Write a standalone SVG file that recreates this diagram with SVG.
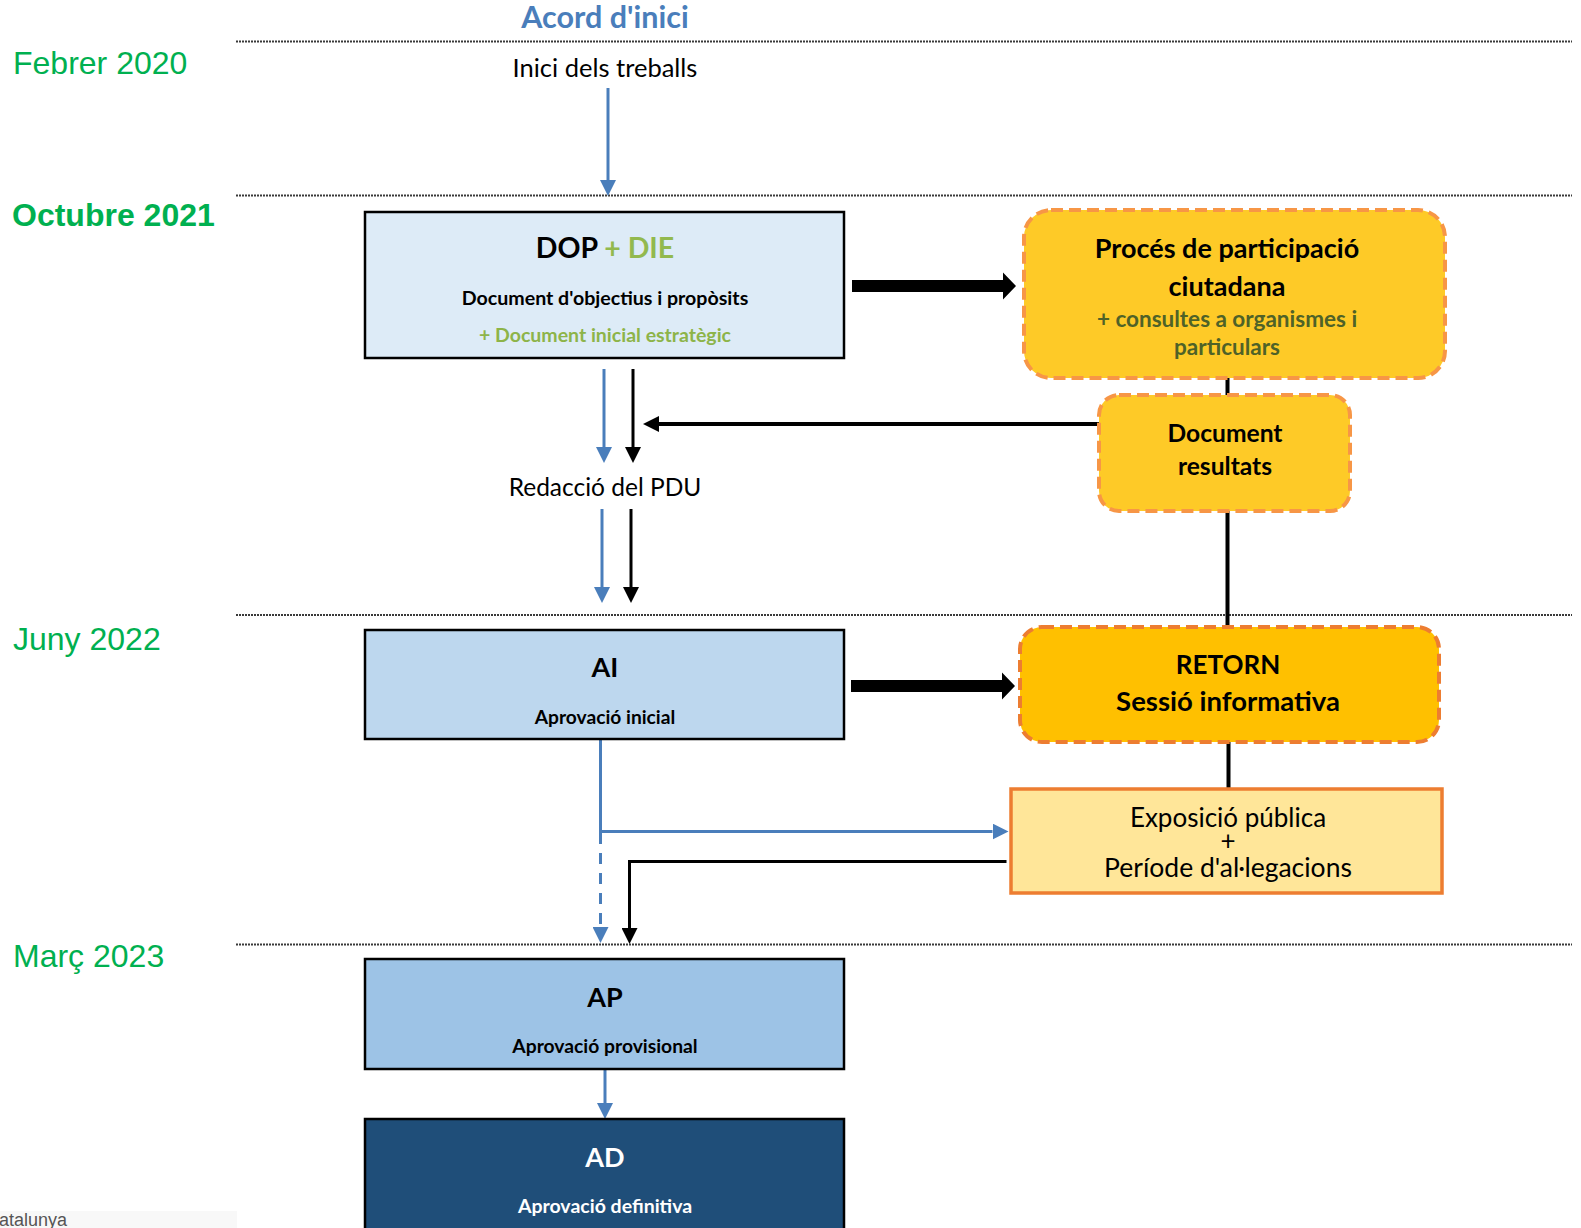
<svg xmlns="http://www.w3.org/2000/svg" width="1581" height="1228" viewBox="0 0 1581 1228">
<style>
.date{font-family:"Liberation Sans",Arial,sans-serif;font-size:32px;fill:#00B050}
.c{font-family:Lato,"Open Sans",sans-serif;text-anchor:middle}
.b{font-weight:bold}
.sep{stroke:#3a3a3a;stroke-width:2;stroke-dasharray:2 1;fill:none}
.bl{stroke:#4A7EBB;stroke-width:3;fill:none}
.bk{stroke:#000;stroke-width:3;fill:none}
.bk4{stroke:#000;stroke-width:4;fill:none}
.box{stroke:#000;stroke-width:2.5}
.yel{fill:#FECA27;stroke:#F79646;stroke-width:4;stroke-dasharray:12 6}
</style>
<defs>
<marker id="ab" markerUnits="userSpaceOnUse" markerWidth="16" markerHeight="16" viewBox="0 0 16 16" refX="0" refY="8" orient="auto"><path d="M0,0 L16,8 L0,16 Z" fill="#4A7EBB"/></marker>
<marker id="ak" markerUnits="userSpaceOnUse" markerWidth="16" markerHeight="16" viewBox="0 0 16 16" refX="0" refY="8" orient="auto"><path d="M0,0 L16,8 L0,16 Z" fill="#000"/></marker>
<path id="thick" d="M0,-6 H151 V-13.5 L164,0 L151,13.5 V6 H0 Z" fill="#000"/>
</defs>
<rect width="1581" height="1228" fill="#fff"/>
<rect x="0" y="1211" width="237" height="17" fill="#f8f8f8"/>
<text x="-1" y="1226" font-family="Liberation Sans,Arial,sans-serif" font-size="18" fill="#555">atalunya</text>

<g id="timeline">
<line class="sep" x1="236" y1="41.5" x2="1572" y2="41.5"/>
<line class="sep" x1="236" y1="195.5" x2="1572" y2="195.5"/>
<line class="sep" x1="236" y1="615" x2="1572" y2="615"/>
<line class="sep" x1="236" y1="944.5" x2="1572" y2="944.5"/>
<text class="date" x="13" y="74">Febrer 2020</text>
<text class="date b" x="12" y="226">Octubre 2021</text>
<text class="date" x="13" y="650">Juny 2022</text>
<text class="date" x="13" y="967">Març 2023</text>
<text class="c b" x="605" y="28" font-size="30.5" fill="#4A7EBB">Acord d'inici</text>
<text class="c" x="605" y="77" font-size="25.5">Inici dels treballs</text>
<text class="c" x="605" y="496" font-size="24.5">Redacció del PDU</text>
</g>

<g id="connectors">
<line class="bl" x1="608" y1="88" x2="608" y2="180" marker-end="url(#ab)"/>
<line class="bl" x1="604" y1="369" x2="604" y2="447" marker-end="url(#ab)"/>
<line class="bk" x1="633" y1="369" x2="633" y2="447" marker-end="url(#ak)"/>
<line class="bk4" x1="1099" y1="424" x2="659" y2="424" marker-end="url(#ak)"/>
<line class="bl" x1="602" y1="509" x2="602" y2="587" marker-end="url(#ab)"/>
<line class="bk" x1="631" y1="509" x2="631" y2="587" marker-end="url(#ak)"/>
<line class="bk4" x1="1227.5" y1="378" x2="1227.5" y2="395"/>
<line class="bk4" x1="1227.5" y1="511" x2="1227.5" y2="627"/>
<line class="bk4" x1="1228.5" y1="742" x2="1228.5" y2="789"/>
<path class="bl" d="M600.5,739 V831.5 H992.5" marker-end="url(#ab)"/>
<path class="bl" d="M600.5,833 V927" stroke-dasharray="11 9" marker-end="url(#ab)"/>
<path class="bk" d="M1006.5,861.5 H629.5 V928" marker-end="url(#ak)"/>
<line class="bl" x1="605" y1="1069" x2="605" y2="1103" marker-end="url(#ab)"/>
<use href="#thick" transform="translate(852,286)"/>
<use href="#thick" transform="translate(851,686)"/>
</g>

<g id="dop">
<rect class="box" x="365" y="212" width="479" height="146" fill="#DDEBF7"/>
<text class="c b" x="605" y="258" font-size="28.5"><tspan>DOP</tspan><tspan fill="#92B94E"> + DIE</tspan></text>
<text class="c b" x="605" y="305" font-size="19.6">Document d'objectius i propòsits</text>
<text class="c b" x="605" y="342" font-size="19.5" fill="#8DB449">+ Document inicial estratègic</text>
</g>

<g id="proces">
<rect class="yel" x="1024" y="210" width="421" height="168" rx="27"/>
<text class="c b" x="1227" y="258" font-size="27">Procés de participació</text>
<text class="c b" x="1227" y="296" font-size="27">ciutadana</text>
<text class="c b" x="1227" y="327" font-size="22.5" fill="#4F6228">+ consultes a organismes i</text>
<text class="c b" x="1227" y="355" font-size="22.5" fill="#4F6228">particulars</text>
</g>

<g id="resultats">
<rect class="yel" x="1099" y="395" width="251" height="116" rx="20"/>
<text class="c b" x="1225" y="442" font-size="24.6">Document</text>
<text class="c b" x="1225" y="475" font-size="24.6">resultats</text>
</g>

<g id="ai">
<rect class="box" x="365" y="630" width="479" height="109" fill="#BDD7EE"/>
<text class="c b" x="605" y="677" font-size="27">AI</text>
<text class="c b" x="605" y="724" font-size="19.2">Aprovació inicial</text>
</g>

<g id="retorn">
<rect x="1020" y="627" width="419" height="115" rx="22" fill="#FFC000" stroke="#ED7D31" stroke-width="4" stroke-dasharray="12 6"/>
<text class="c b" x="1228" y="674" font-size="26">RETORN</text>
<text class="c b" x="1228" y="711" font-size="27.5">Sessió informativa</text>
</g>

<g id="exposicio">
<rect x="1011" y="789" width="431" height="104" fill="#FFE699" stroke="#ED7D31" stroke-width="3.5"/>
<text class="c" x="1228" y="827" font-size="26">Exposició pública</text>
<text class="c" x="1228" y="850" font-size="26">+</text>
<text class="c" x="1228" y="877" font-size="26.5">Període d'al·legacions</text>
</g>

<g id="ap">
<rect class="box" x="365" y="959" width="479" height="110" fill="#9DC3E6"/>
<text class="c b" x="605" y="1007" font-size="27">AP</text>
<text class="c b" x="605" y="1053" font-size="19.3">Aprovació provisional</text>
</g>

<g id="ad">
<rect class="box" x="365" y="1119" width="479" height="130" fill="#1F4E79"/>
<text class="c b" x="605" y="1167" font-size="27" fill="#fff">AD</text>
<text class="c b" x="605" y="1213" font-size="19.5" fill="#fff">Aprovació definitiva</text>
</g>
</svg>
